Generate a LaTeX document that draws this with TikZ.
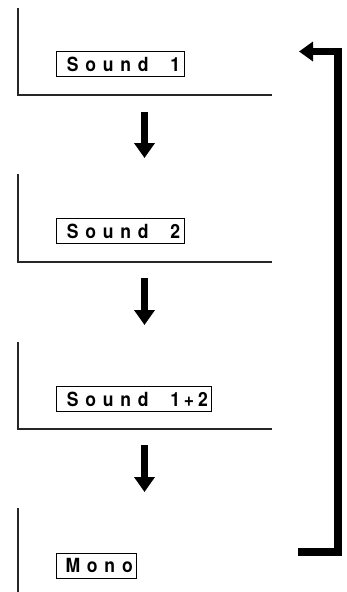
\documentclass[tikz,border=0pt]{standalone}
\usepackage{fontspec}
\usepackage{tikz}
\usetikzlibrary{arrows.meta}
\newfontfamily\lblfont{texgyreheros-bold}[Extension=.otf,FakeStretch=0.9,LetterSpace=35,WordSpace=1.85]
\newcommand\tight[2]{{\addfontfeature{LetterSpace=#1}#2}}

\begin{document}
\begin{tikzpicture}[
  x=1pt,y=-1pt,
  panel/.style={line width=1.1pt,draw=black!85},
  modebox/.style={draw,line width=1pt,anchor=west,inner xsep=4pt,
    minimum height=25pt,inner ysep=0pt,
    font={\fontsize{19.5pt}{20pt}\selectfont\lblfont}},
  down/.style={line width=7pt,-{Triangle[length=15pt,width=20pt]}},
  back/.style={line width=7.5pt,miter limit=10,-{Triangle[length=14pt,width=19pt]}}
]
  \useasboundingbox (0,0) rectangle (346,592);

  % panels
  \draw[panel] (18,8) -- (18,95) -- (272,95);
  \draw[panel] (18,174) -- (18,262) -- (272,262);
  \draw[panel] (18,342) -- (18,429) -- (272,429);
  \draw[panel] (18,508) -- (18,592);

  % mode labels
  \node[modebox] (s1) at (56,64) {\hspace*{6.3pt}Sound 1};
  \node[modebox] (s2) at (56,231) {\hspace*{6.3pt}Sound 2};
  \node[modebox] (s12) at (56,399) {\hspace*{6.3pt}Sound \tight{20}{1+2}};
  \node[modebox] (mono) at (56,565.5) {\hspace*{5pt}Mono};

  % steps
  \coordinate (a1) at (144.5,112);
  \coordinate (b1) at (144.5,158);
  \coordinate (a2) at (144.5,278);
  \coordinate (b2) at (144.5,325);
  \coordinate (a3) at (144.5,445);
  \coordinate (b3) at (144.5,492);
  \draw[down] (a1) -- (b1);
  \draw[down] (a2) -- (b2);
  \draw[down] (a3) -- (b3);

  % back to the start
  \coordinate (r0) at (298,552);
  \coordinate (r1) at (299,51.5);
  \draw[back] (r0) -- (338,552) -- (338,51.5) -- (r1);
\end{tikzpicture}
\end{document}
